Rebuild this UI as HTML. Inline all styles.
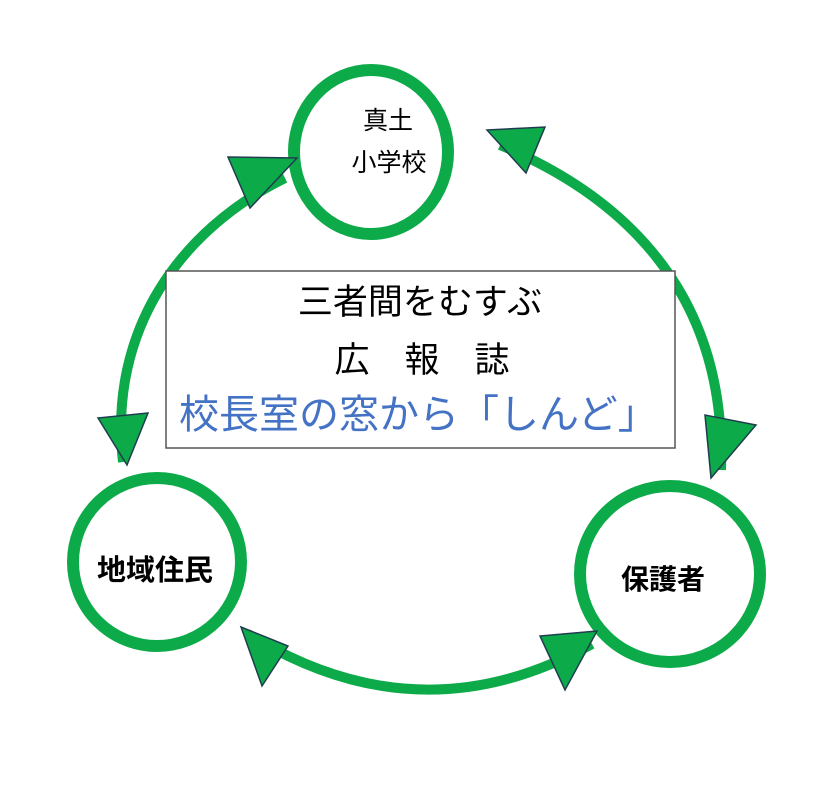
<!DOCTYPE html>
<html><head><meta charset="utf-8"><style>
html,body{margin:0;padding:0;background:#fff;}
svg{display:block;}
text{font-family:"Liberation Sans","Noto Sans CJK JP",sans-serif;}
</style></head><body>
<svg width="835" height="795" viewBox="0 0 835 795" xmlns="http://www.w3.org/2000/svg">
<g fill="none" stroke="#0daa4a" stroke-width="10">
<path d="M 285 178 C 180 230, 108 330, 123 462"/>
<path d="M 500 145 C 620 195, 727 290, 721 470"/>
<path d="M 248 634 Q 420 740 592 644"/>
</g>
<g fill="none" stroke="#0daa4a" stroke-width="12">
<ellipse cx="371" cy="152" rx="77" ry="82"/>
<ellipse cx="157" cy="562" rx="84" ry="84"/>
<ellipse cx="670" cy="574" rx="90" ry="88"/>
</g>
<g fill="#0daa4a" stroke="#1f3d4f" stroke-width="1.5">
<polygon points="297,158 228,157 250,208"/>
<polygon points="127,465 98,418 148,413"/>
<polygon points="487,130 545,127 526,173"/>
<polygon points="711,478 705,415 756,425"/>
<polygon points="241,627 288,646 262,686"/>
<polygon points="597,631 540,636 565,690"/>
</g>
<rect x="166" y="271" width="509" height="177" fill="#fff" stroke="#555" stroke-width="1.5"/>
<g fill="#000" text-anchor="middle">
<text x="388" y="129" font-size="25">真土</text>
<text x="389" y="171" font-size="25">小学校</text>
<text x="420" y="314" font-size="35">三者間をむすぶ</text>
<text x="422" y="372" font-size="35" xml:space="preserve">広　報　誌</text>
<text x="155" y="580" font-size="29" font-weight="bold">地域住民</text>
<text x="663" y="589" font-size="28" font-weight="bold">保護者</text>
</g>
<text x="179" y="428" font-size="40" fill="#4472c4">校長室の窓から「しんど」</text>
</svg>
</body></html>
